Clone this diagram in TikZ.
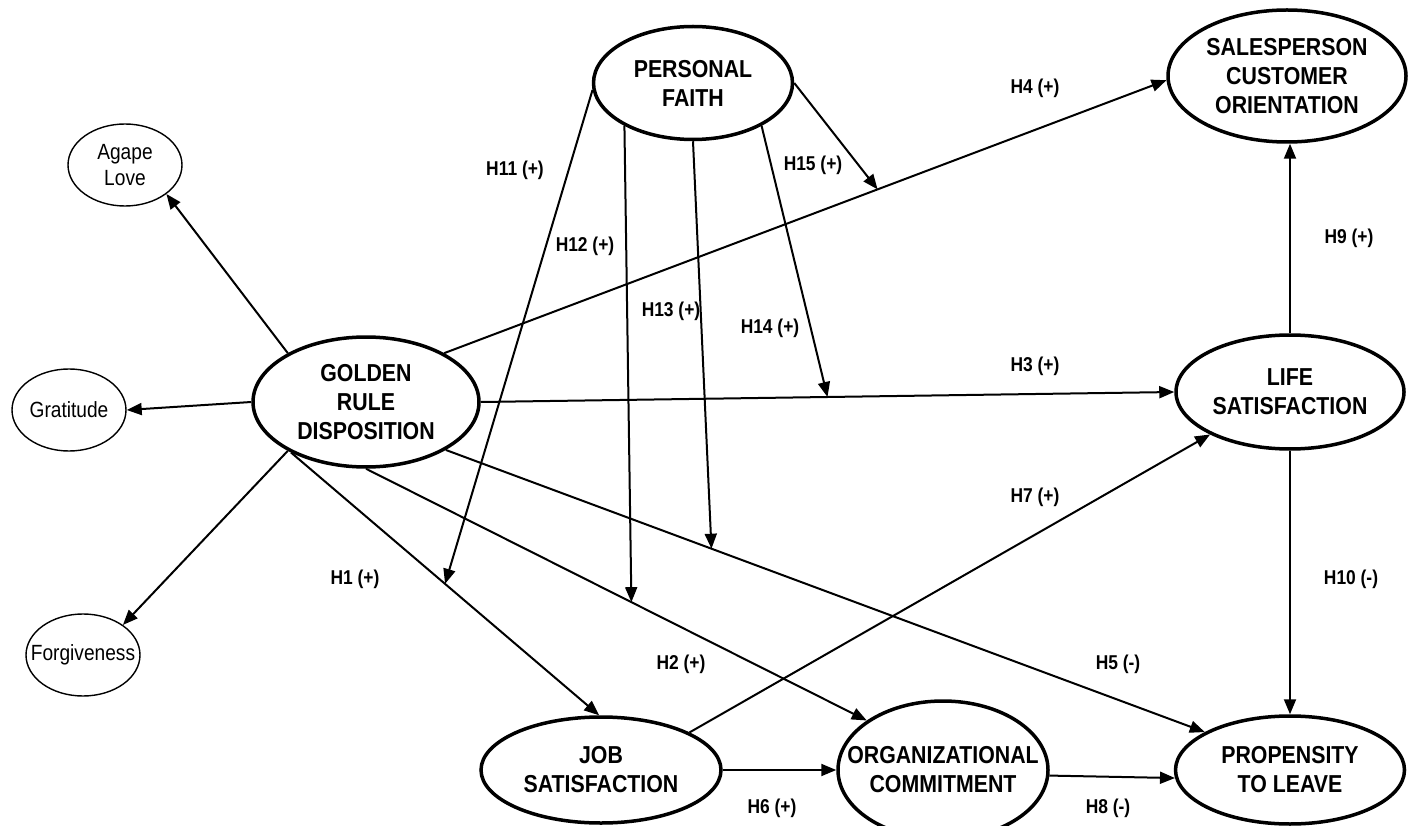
\documentclass[tikz,border=0pt]{standalone}
\usepackage{fontspec}
\setmainfont[FakeStretch=0.87]{Liberation Sans}
\usetikzlibrary{arrows.meta,shapes.geometric}

\begin{document}
\begin{tikzpicture}[
  major/.style={ellipse, draw=black, line width=3.5pt, inner xsep=-40pt, inner ysep=0pt, align=center, font=\fontsize{24.5}{29}\selectfont\bfseries},
  minor/.style={ellipse, draw=black, line width=1.4pt, inner xsep=-25pt, inner ysep=0pt, minimum width=114pt, minimum height=82pt, align=center, font=\fontsize{22}{26}\selectfont},
  arr/.style={-{Triangle[length=15pt,width=12pt]}, line width=2pt, color=black},
  hyp/.style={font=\fontsize{20}{24}\selectfont\bfseries}]
\path [use as bounding box, clip] (0pt, 0pt) rectangle (1408pt, -826pt);
% constructs
\node (agape) [minor] at (125.0pt, -165.0pt) {Agape\\Love};
\node (grat) [minor] at (69.0pt, -410.0pt) {Gratitude};
\node (forg) [minor] at (83.0pt, -655.0pt) {Forgiveness};
\node (grd) [major, minimum width=226pt, minimum height=130pt] at (366.0pt, -402.0pt) {GOLDEN\\RULE\\DISPOSITION};
\node (pf) [major, minimum width=199pt, minimum height=113pt] at (693.0pt, -83.0pt) {PERSONAL\\FAITH};
\node (sco) [major, minimum width=238pt, minimum height=132pt] at (1287.0pt, -76.0pt) {SALESPERSON\\CUSTOMER\\ORIENTATION};
\node (ls) [major, minimum width=228pt, minimum height=114pt] at (1290.0pt, -392.0pt) {LIFE\\SATISFACTION};
\node (job) [major, minimum width=240pt, minimum height=106pt] at (601.0pt, -770.0pt) {JOB\\SATISFACTION};
\node (org) [major, minimum width=210pt, minimum height=138pt] at (943.0pt, -770.0pt) {ORGANIZATIONAL\\COMMITMENT};
\node (ptl) [major, minimum width=229pt, minimum height=108pt] at (1290.0pt, -770.0pt) {PROPENSITY\\TO LEAVE};
% dimensions of golden rule
\draw [arr] (grd.148) -- (agape.325);
\draw [arr] (grd.180) -- (grat.0);
\draw [arr] (grd.212) -- (forg.37);
% main paths
\draw [arr] (grd.214) -- coordinate[pos=0.5] (h1m) (job.92);
\draw [arr] (grd.270) -- coordinate[pos=0.53] (h2m) (org.147);
\draw [arr] (grd.0) -- coordinate[pos=0.5] (h3m) (ls.180);
\draw [arr] (grd.32) -- coordinate[pos=0.6] (h4m) (sco.182);
\draw [arr] (grd.329) -- coordinate[pos=0.35] (h5m) (ptl.156);
\draw [arr] (job.0) -- (org.180);
\draw [arr] (job.23) -- (ls.208);
\draw [arr] (org.-3) -- (ptl.184);
\draw [arr] (ls.north) -- (ls.north |- sco.south);
\draw [arr] (ls.south) -- (ptl.north);
% moderation by personal faith
\draw [arr] (pf.184) -- (h1m);
\draw [arr] (pf.212) -- (h2m);
\draw [arr] (pf.270) -- (h5m);
\draw [arr] (pf.328) -- (h3m);
\draw [arr] (pf.0) -- (h4m);
% hypothesis labels
\node (l1) [hyp] at (355.0pt, -579.0pt) {H1 (+)};
\node (l2) [hyp] at (681.0pt, -664.0pt) {H2 (+)};
\node (l3) [hyp] at (1035.0pt, -366.0pt) {H3 (+)};
\node (l4) [hyp] at (1035.0pt, -88.0pt) {H4 (+)};
\node (l5) [hyp] at (1118.0pt, -664.0pt) {H5 (-)};
\node (l6) [hyp] at (772.0pt, -808.0pt) {H6 (+)};
\node (l7) [hyp] at (1035.0pt, -497.0pt) {H7 (+)};
\node (l8) [hyp] at (1108.0pt, -808.0pt) {H8 (-)};
\node (l9) [hyp] at (1349.0pt, -238.0pt) {H9 (+)};
\node (l10) [hyp] at (1351.0pt, -579.0pt) {H10 (-)};
\node (l11) [hyp] at (515.0pt, -170.0pt) {H11 (+)};
\node (l12) [hyp] at (585.0pt, -246.0pt) {H12 (+)};
\node (l13) [hyp] at (671.0pt, -311.0pt) {H13 (+)};
\node (l14) [hyp] at (770.0pt, -328.0pt) {H14 (+)};
\node (l15) [hyp] at (813.0pt, -165.0pt) {H15 (+)};
\end{tikzpicture}
\end{document}
